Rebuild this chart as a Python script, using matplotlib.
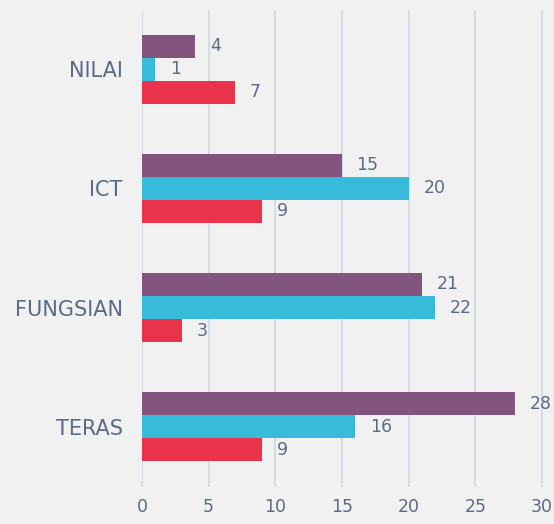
import matplotlib
matplotlib.use("Agg")
import matplotlib.pyplot as plt
import numpy as np

categories = ["NILAI", "ICT", "FUNGSIAN", "TERAS"]
series_purple = [4, 15, 21, 28]
series_cyan = [1, 20, 22, 16]
series_red = [7, 9, 3, 9]
xticks = [0, 5, 10, 15, 20, 25, 30]

colors = ["#83547E", "#38BADB", "#E8334A"]
text_color = "#5B6A85"
grid_color = "#D6DCE4"
bg = "#F1F1F1"
font = "DejaVu Sans"

fig = plt.figure(figsize=(5.54, 5.24), dpi=100, facecolor=bg)
W, H = 554, 524
ax = fig.add_axes([142 / W, (H - 481) / H, (W - 142) / W, (481 - 10) / H])
ax.set_facecolor(bg)

y = np.arange(len(categories))
bh = 0.193
offsets = [-bh, 0, bh]
for vals, off, c in zip([series_purple, series_cyan, series_red], offsets, colors):
    bars = ax.barh(y + off, vals, height=bh, color=c, zorder=3)
    for b, v in zip(bars, vals):
        ax.annotate(str(v), (v, b.get_y() + b.get_height() / 2), xytext=(10.5, 0),
                    textcoords="offset points", va="center", ha="left",
                    fontsize=12.5, color=text_color, fontfamily=font, zorder=4)

ax.set_xlim(0, 30.9)
ax.set_ylim(3.455, -0.495)
ax.set_yticks(y)
ax.set_yticklabels(categories, fontsize=15, color=text_color, fontfamily=font)
ax.set_xticks(xticks)
ax.set_xticklabels([str(t) for t in xticks], fontsize=12.5, color=text_color, fontfamily=font)
ax.tick_params(axis="y", length=0, pad=14)
ax.tick_params(axis="x", length=4.5, width=1.5, color=grid_color, pad=8)
for s in ax.spines.values():
    s.set_visible(False)
ax.grid(axis="x", color=grid_color, linewidth=1.5, zorder=0)
ax.set_axisbelow(True)

fig.savefig("out.png", dpi=100, facecolor=bg)
